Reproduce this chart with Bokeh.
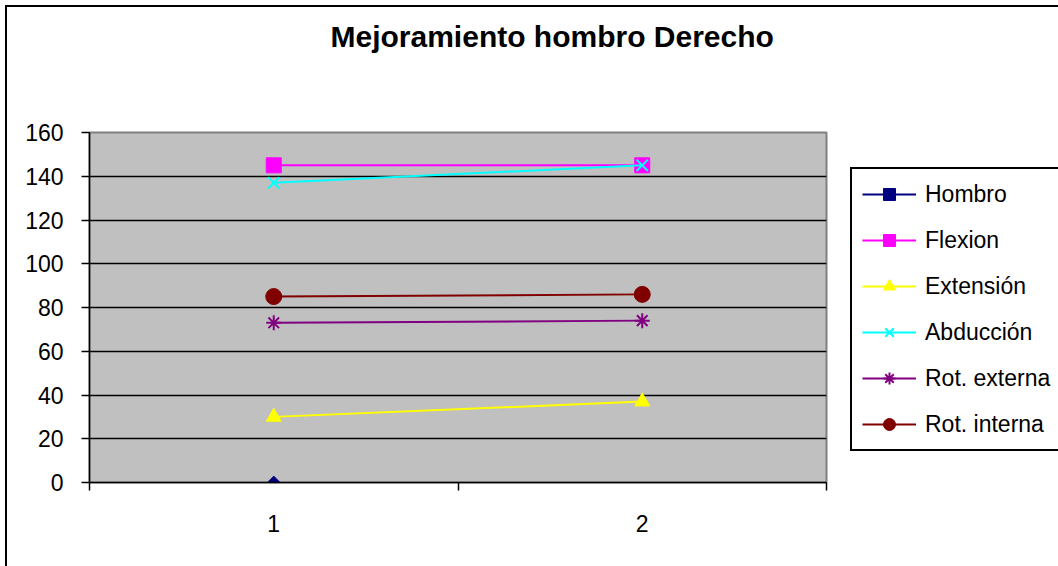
from bokeh.plotting import figure
from bokeh.models import FixedTicker, Legend, LegendItem, ColumnDataSource, LinearAxis
from bokeh.embed import file_html
from bokeh.resources import INLINE
import math

# ---- data ----
categories = [1, 2]
hombro = [0, float("nan")]
flexion = [145, 145]
extension = [30, 37]
abduccion = [137, 145]
rot_externa = [73, 74]
rot_interna = [85, 86]

series_names = ["Hombro", "Flexion", "Extensión", "Abducción", "Rot. externa", "Rot. interna"]
series_values = [hombro, flexion, extension, abduccion, rot_externa, rot_interna]
y_ticks = [0, 20, 40, 60, 80, 100, 120, 140, 160]
title_text = "Mejoramiento  hombro Derecho"

# ---- styles ----
colors = ["#000080", "#FF00FF", "#FFFF00", "#00FFFF", "#800080", "#800000"]
markers = ["square", "square", "triangle", "x", "asterisk", "circle"]
sizes = [9, 15, 15, 16, 15, 16]
angles = [math.pi / 4, 0, 0, 0, 0, 0]

FONT = "Liberation Sans"

p = figure(frame_width=737, frame_height=350, x_range=(0.5, 2.5), y_range=(0, 160),
           output_backend="svg", toolbar_location=None,
           min_border_left=82, min_border_right=222, min_border_top=125, min_border_bottom=84)
p.styles = {"margin-left": "5px", "margin-top": "5px",
            "border-left": "2px solid black", "border-top": "2px solid black"}

p.background_fill_color = "#C0C0C0"
p.border_fill_color = "white"
p.outline_line_color = "#808080"
p.outline_line_width = 2

# bottom / left axes (configure before adding the spacer)
xax = p.below[0]
yax = p.left[0]

# invisible spacer axis above (pushes the title up)
spacer = LinearAxis(ticker=FixedTicker(ticks=[1.5], minor_ticks=[]), major_tick_out=80, major_tick_in=0,
                    minor_tick_out=0, minor_tick_in=0,
                    axis_line_color=None, major_tick_line_color=None,
                    minor_tick_line_color=None, major_label_text_font_size="1px",
                    major_label_text_color=None, major_label_overrides={1.5: ""},
                    major_label_standoff=0)
p.add_layout(spacer, "above")

# title
p.title.text = title_text
p.title.text_font = FONT
p.title.text_font_size = "30px"
p.title.text_font_style = "bold"
p.title.text_color = "black"
p.title.align = "left"
p.title.offset = 241
p.title.vertical_align = "bottom"
p.title.standoff = 0

# grid
p.xgrid.grid_line_color = None
p.ygrid.grid_line_color = "black"
p.ygrid.grid_line_width = 1.5
p.ygrid.ticker = FixedTicker(ticks=y_ticks)

# y axis
yax.ticker = FixedTicker(ticks=y_ticks)
yax.axis_line_color = "black"
yax.axis_line_width = 1.5
yax.major_tick_line_color = "black"
yax.major_tick_line_width = 1.5
yax.major_tick_in = 0
yax.major_tick_out = 8
yax.minor_tick_line_color = None
yax.major_label_standoff = 18
yax.major_label_text_font = FONT
yax.major_label_text_font_size = "23px"
yax.major_label_text_color = "black"

# x axis
xax.ticker = FixedTicker(ticks=categories, minor_ticks=[0.5, 1.5, 2.5])
xax.axis_line_color = "black"
xax.axis_line_width = 1.5
xax.major_tick_line_color = None
xax.major_tick_in = 0
xax.major_tick_out = 0
xax.minor_tick_line_color = "black"
xax.minor_tick_line_width = 1.5
xax.minor_tick_in = 0
xax.minor_tick_out = 8
xax.major_label_standoff = 24
xax.major_label_text_font = FONT
xax.major_label_text_font_size = "23px"
xax.major_label_text_color = "black"

items = []
for name, vals, c, m, s, a in zip(series_names, series_values, colors, markers, sizes, angles):
    src = ColumnDataSource(dict(x=categories, y=vals))
    ln = p.line("x", "y", source=src, line_color=c, line_width=2)
    if m in ("x", "asterisk"):
        sc = p.scatter("x", "y", source=src, marker=m, size=s, line_color=c, line_width=2)
    else:
        sc = p.scatter("x", "y", source=src, marker=m, size=s, angle=a,
                       fill_color=c, line_color=c, line_width=1)
    items.append(LegendItem(label=name, renderers=[ln, sc]))

legend = Legend(items=items, location=(24, 31), orientation="vertical",
                glyph_width=54, glyph_height=30, label_height=30, spacing=16,
                padding=10, margin=0, label_standoff=9,
                label_text_font=FONT, label_text_font_size="23px", label_text_color="black",
                border_line_color="black", border_line_width=2, border_line_alpha=1,
                background_fill_color="white", background_fill_alpha=1)
p.add_layout(legend, "right")

open("out.html", "w").write(file_html(p, INLINE))
